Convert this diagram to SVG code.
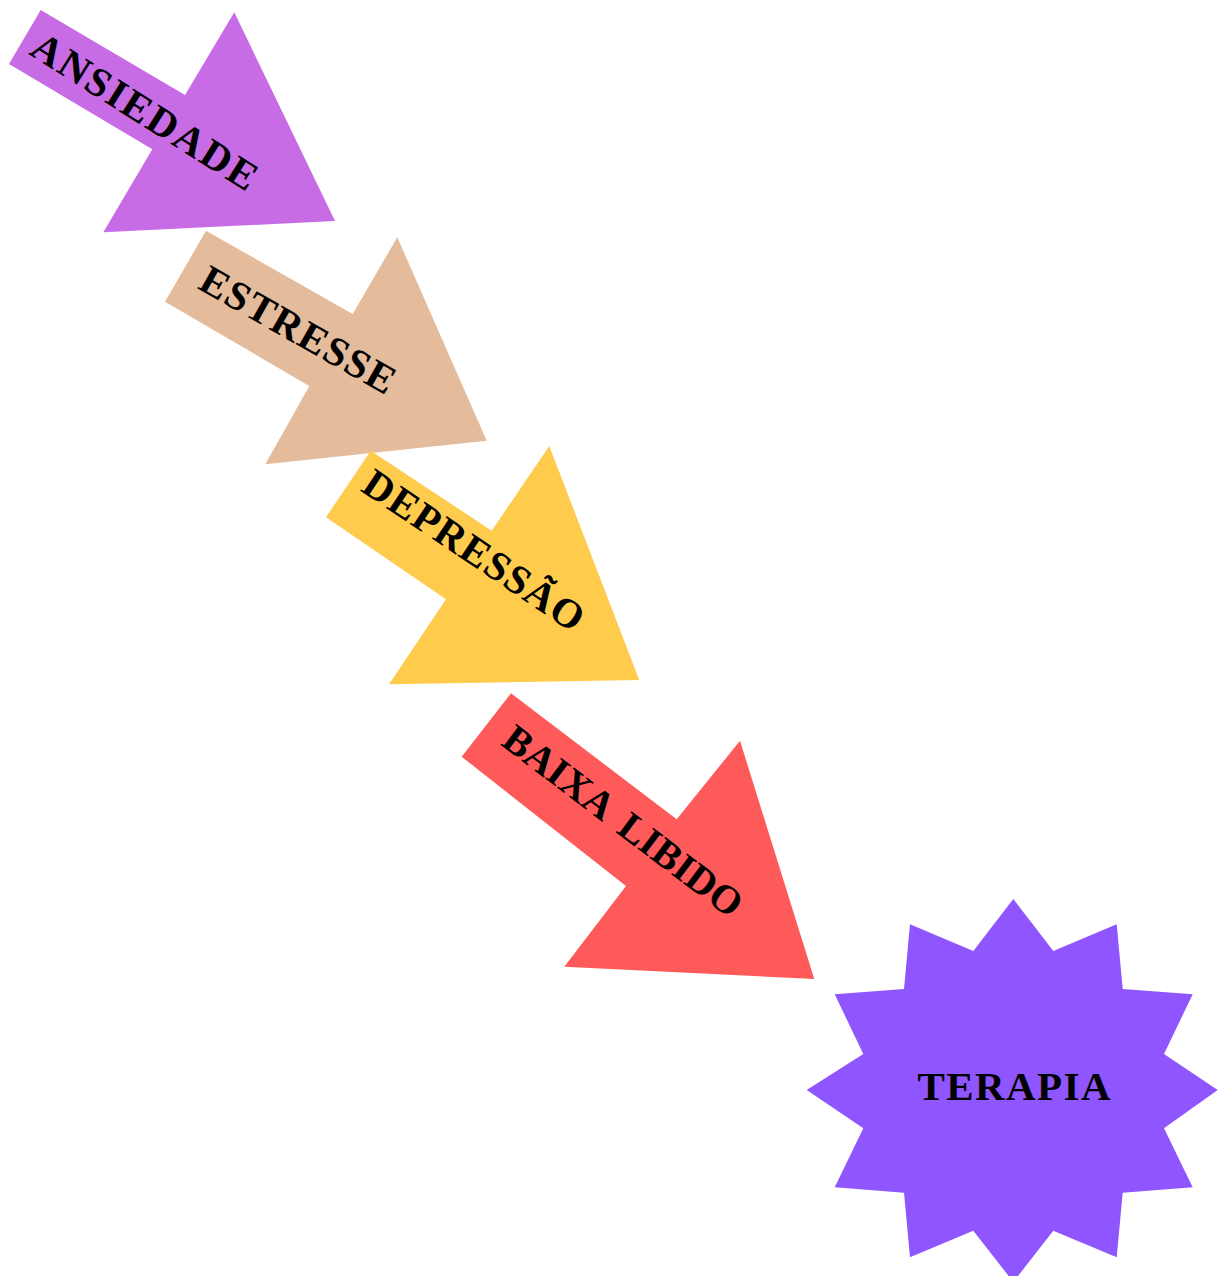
<svg xmlns="http://www.w3.org/2000/svg" width="1218" height="1276" viewBox="0 0 1218 1276">
<style>
.lbl{font-family:"Liberation Serif","Times New Roman",serif;font-weight:bold;font-size:41px;fill:#000;text-anchor:middle}
</style>
<rect width="1218" height="1276" fill="#fff"/>
<g id="ansiedade">
<polygon points="40.7,10 185,95 234.3,12.3 335,221 103.3,232.3 152.3,149.3 9,64" fill="#C86CE6"/>
<text class="lbl" x="137.5" y="123" textLength="259" lengthAdjust="spacing" transform="rotate(32.3 137.5 123)">ANSIEDADE</text>
</g>
<g id="estresse">
<polygon points="206,230.7 352.7,314 397.3,237.3 486.7,440.7 265.3,464.3 309.3,386 165,301.7" fill="#E4BC9C"/>
<text class="lbl" x="291.3" y="341.7" textLength="218" lengthAdjust="spacing" transform="rotate(29.5 291.3 341.7)">ESTRESSE</text>
</g>
<g id="depressao">
<polygon points="370.7,450.7 491.7,530.7 549.3,446 639.3,680 389,684.3 446,599.3 326,517.3" fill="#FFCB4D"/>
<text class="lbl" x="466.3" y="561.7" textLength="257" lengthAdjust="spacing" transform="rotate(33.8 466.3 561.7)">DEPRESSÃO</text>
</g>
<g id="baixa-libido">
<polygon points="511,693.3 676.7,819.3 740,740.7 814.3,979 564.3,966.7 626,886 461.7,756.7" fill="#FF5A5A"/>
<text class="lbl" x="615" y="831.7" style="font-size:40px;word-spacing:8px" transform="rotate(37.2 615 831.7)">BAIXA LIBIDO</text>
</g>
<g id="terapia">
<polygon points="1013.3,899 1053.3,951 1116.7,924.3 1122.7,989 1192.7,994.3 1164,1054 1217.7,1090 1164,1128.3 1192.7,1187.3 1122.7,1192.7 1116.7,1257.3 1053.3,1230.7 1013.3,1282 973.3,1230.7 910,1257.3 904,1192.7 834.7,1187.3 863.3,1128.3 806.7,1090 863.3,1054 834.7,994.3 904,989 910,924.3 973.3,951" fill="#8F55FF"/>
<text class="lbl" x="1014" y="1100" textLength="193" lengthAdjust="spacing">TERAPIA</text>
</g>
<g id="connectors"></g>
</svg>
